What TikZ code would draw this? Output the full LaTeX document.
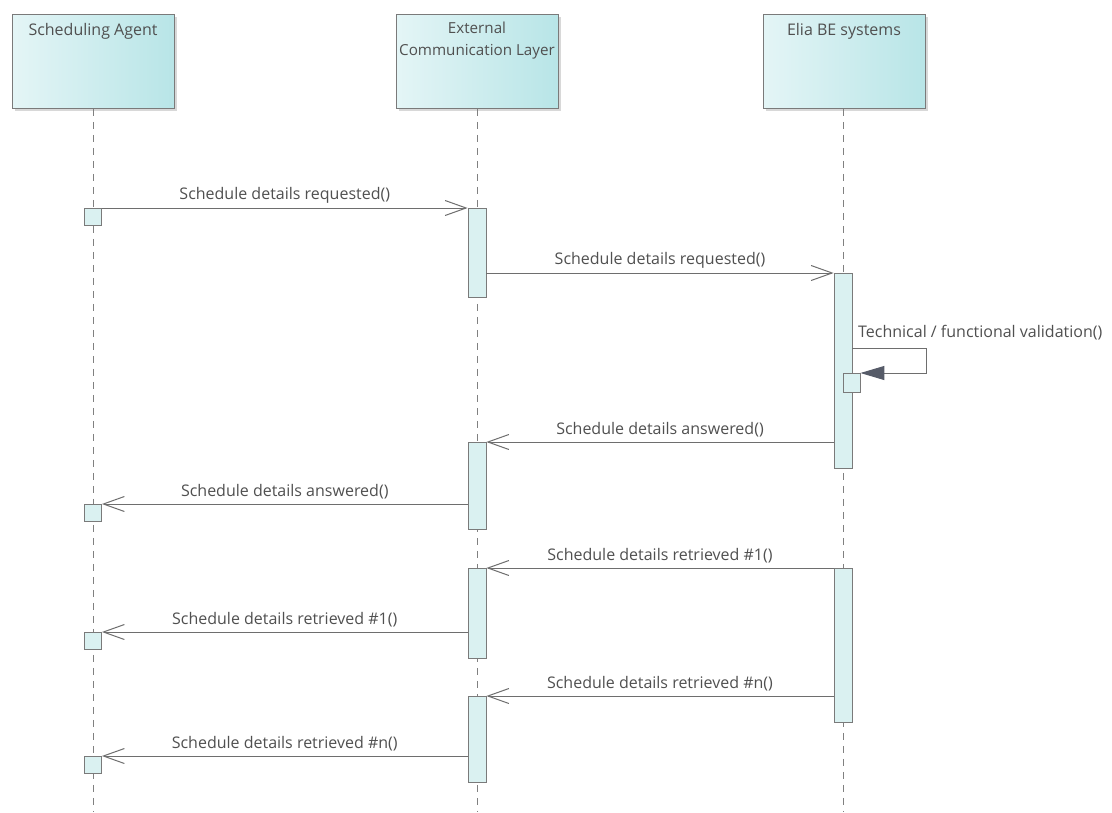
\documentclass[tikz,border=0pt]{standalone}
\usepackage{fontspec}
\setmainfont{Open Sans}
\usetikzlibrary{arrows.meta,shadows}
\definecolor{txt}{HTML}{505050}
\definecolor{ln}{HTML}{6E6E6E}
\definecolor{bd}{HTML}{7A7A7A}
\definecolor{lifec}{HTML}{808080}
\definecolor{fillL}{HTML}{E4F5F6}
\definecolor{fillR}{HTML}{B8E5E7}
\definecolor{actf}{HTML}{DAF1F1}
\definecolor{tri}{HTML}{565B68}
\tikzset{
  head/.style={draw=bd, line width=0.8pt, left color=fillL, right color=fillR,
    minimum width=162pt, minimum height=94pt, inner sep=0pt, anchor=north,
    drop shadow={shadow xshift=2.5pt, shadow yshift=-2.5pt, fill=black!30, opacity=0.5}},
  lbl/.style={text=txt, font=\fontsize{16}{22}\selectfont, inner sep=0pt},
  act/.style={draw=bd, line width=0.8pt, fill=actf, minimum width=18pt, inner sep=0pt, anchor=north},
  sbox/.style={act, minimum width=17pt, minimum height=17pt},
  life/.style={draw=lifec, line width=0.8pt, dash pattern=on 7pt off 6pt},
  msg/.style={draw=ln, line width=1pt, -{Straight Barb[length=21pt,width=15pt]}},
  selfmsg/.style={draw=ln, line width=1pt, -{Triangle[length=24pt,width=14pt,color=tri]}},
  mlbl/.style={lbl, midway, above=4pt}
}
\begin{document}
\begin{tikzpicture}[x=1pt,y=-1pt]
\fill[white] (0,0) rectangle (1112,812);
\useasboundingbox (0,0) rectangle (1112,812);

% heads
\node[head, label={[lbl, anchor=north, yshift=-9pt]north:{Scheduling Agent}}] (sa) at (93,14) {};
\node[head, label={[lbl, font=\fontsize{15.2}{22}\selectfont, align=center, anchor=north, yshift=-8pt]north:{External\\Communication Layer}}] (ex) at (477,14) {};
\node[head, label={[lbl, anchor=north, yshift=-9pt]north:{Elia BE systems}}] (el) at (844,14) {};

% lifelines
\coordinate (saend) at (93,812);
\coordinate (exend) at (477,812);
\coordinate (elend) at (843,812);
\draw[life] (sa.south) -- (saend);
\draw[life] (ex.south) -- (exend);
\draw[life] (el.south -| elend) -- (elend);

% activations
\node[sbox] (sa1) at (93,208) {};
\node[sbox] (sa2) at (93,504) {};
\node[sbox] (sa3) at (93,632) {};
\node[sbox] (sa4) at (93,756) {};
\node[act, minimum height=89pt] (ex1) at (477,208) {};
\node[act, minimum height=87pt] (ex2) at (477,442) {};
\node[act, minimum height=90pt] (ex3) at (477,568) {};
\node[act, minimum height=86pt] (ex4) at (477,696) {};
\node[act, minimum height=195pt] (el1) at (843,273) {};
\node[act, minimum height=154pt] (el2) at (843,568) {};
\node[act, minimum width=17pt, minimum height=19pt] (es) at (851.5,373) {};

% messages
\draw[msg] (sa1.north east) -- node[mlbl] (m1) {Schedule details requested()} (ex1.north west);
\draw[msg] (ex1.east |- el1.north) -- node[mlbl] (m2) {Schedule details requested()} (el1.north west);
\coordinate (loop) at (926,348);
\draw[selfmsg] (el1.east |- loop) -- (loop) -- (loop |- es.north) -- (es.north east);
\node[lbl, anchor=west] (m3) at (858,333) {Technical / functional validation()};
\draw[msg] (el1.west |- ex2.north) -- node[mlbl] (m4) {Schedule details answered()} (ex2.north east);
\draw[msg] (ex2.west |- sa2.north) -- node[mlbl] (m5) {Schedule details answered()} (sa2.north east);
\draw[msg] (el2.north west) -- node[mlbl] (m6) {Schedule details retrieved \#1()} (ex3.north east);
\draw[msg] (ex3.west |- sa3.north) -- node[mlbl] (m7) {Schedule details retrieved \#1()} (sa3.north east);
\draw[msg] (el2.west |- ex4.north) -- node[mlbl] (m8) {Schedule details retrieved \#n()} (ex4.north east);
\draw[msg] (ex4.west |- sa4.north) -- node[mlbl] (m9) {Schedule details retrieved \#n()} (sa4.north east);
\end{tikzpicture}
\end{document}
